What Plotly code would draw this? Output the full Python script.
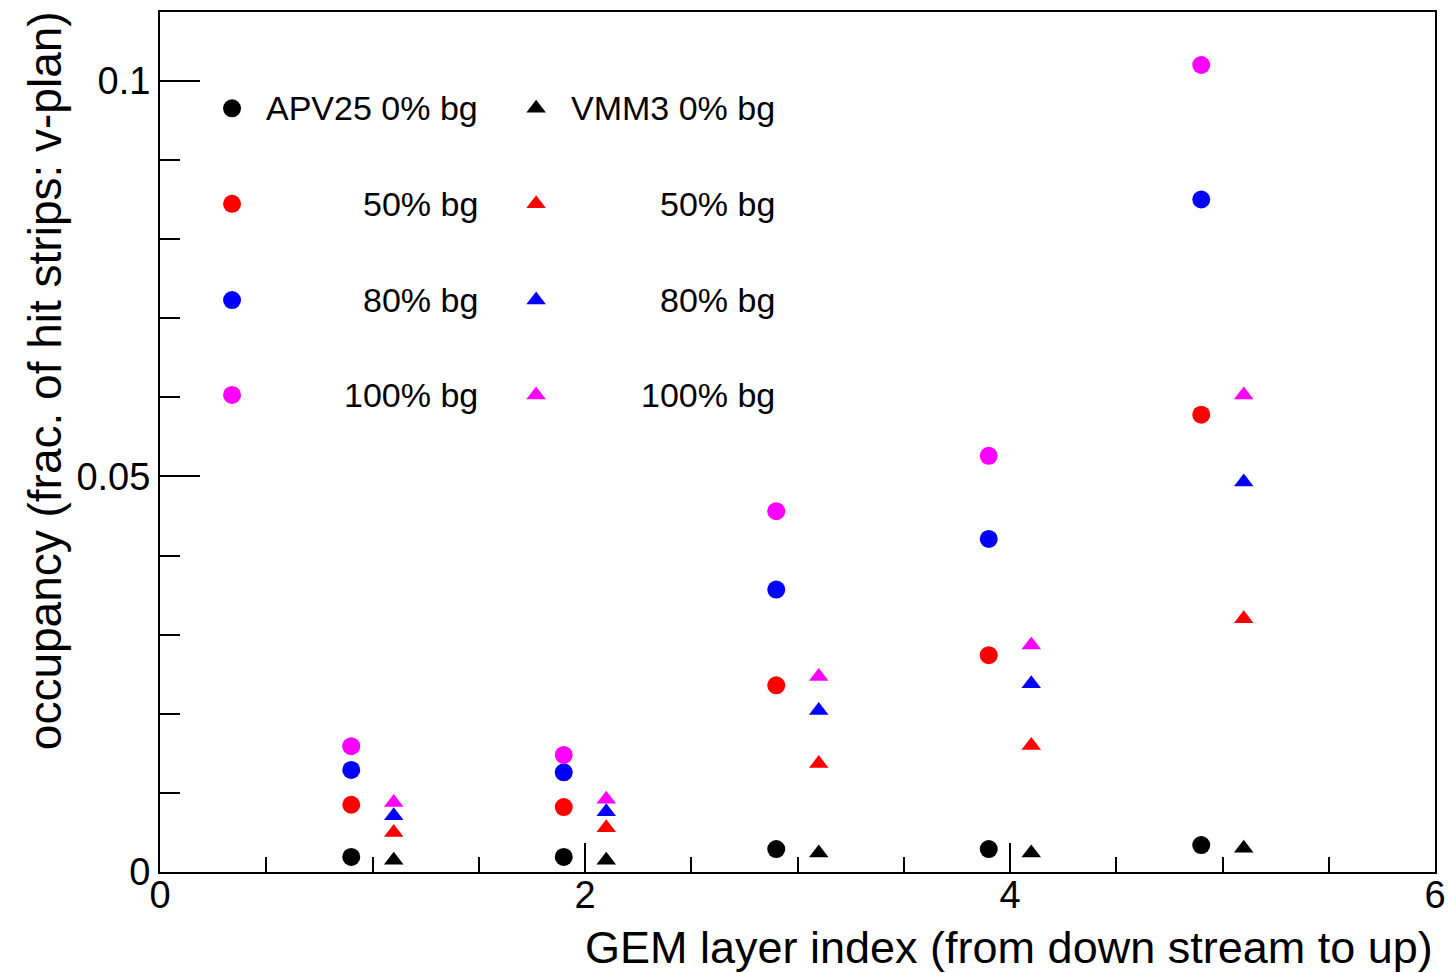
import plotly.graph_objects as go

# layer positions (APV25 shifted left, VMM3 shifted right)
x_apv = [0.9, 1.9, 2.9, 3.9, 4.9]
x_vmm = [1.1, 2.1, 3.1, 4.1, 5.1]

# occupancy
apv_0 = [0.0019, 0.0019, 0.0029, 0.0029, 0.0034]
apv_50 = [0.0085, 0.0082, 0.0236, 0.0274, 0.0578]
apv_80 = [0.0129, 0.0126, 0.0357, 0.0421, 0.0850]
apv_100 = [0.0159, 0.0148, 0.0456, 0.0526, 0.1020]

vmm_0 = [0.0015, 0.0015, 0.0024, 0.0024, 0.0030]
vmm_50 = [0.0050, 0.0056, 0.0137, 0.0160, 0.0320]
vmm_80 = [0.0071, 0.0076, 0.0204, 0.0238, 0.0493]
vmm_100 = [0.0088, 0.0092, 0.0247, 0.0287, 0.0603]

bg_labels = ["0% bg", "50% bg", "80% bg", "100% bg"]
colors = ["black", "red", "blue", "magenta"]

FONT = "Liberation Sans, Arial, Helvetica, sans-serif"

fig = go.Figure()

apv_sets = [apv_0, apv_50, apv_80, apv_100]
vmm_sets = [vmm_0, vmm_50, vmm_80, vmm_100]
for ys, c, lab in zip(apv_sets, colors, bg_labels):
    fig.add_trace(go.Scatter(x=x_apv, y=ys, mode="markers", name="APV25 " + lab,
                             marker=dict(symbol="circle", size=18, color=c),
                             showlegend=False))
for ys, c, lab in zip(vmm_sets, colors, bg_labels):
    fig.add_trace(go.Scatter(x=x_vmm, y=ys, mode="markers", name="VMM3 " + lab,
                             marker=dict(symbol="triangle-up", size=17, color=c),
                             showlegend=False))

# hand-made legend (ROOT style, two columns, text right aligned)
leg_rows = [0.888, 0.777, 0.665, 0.5547]
col_marker = [0.0565, 0.295]
col_text = [0.251, 0.484]
apv_text = ["APV25 0% bg", "50% bg", "80% bg", "100% bg"]
vmm_text = ["VMM3 0% bg", "50% bg", "80% bg", "100% bg"]

for sym, cm, ct, texts, sz in [("circle", col_marker[0], col_text[0], apv_text, 18),
                               ("triangle-up", col_marker[1], col_text[1], vmm_text, 17)]:
    for yr, c, t in zip(leg_rows, colors, texts):
        fig.add_trace(go.Scatter(x=[cm], y=[yr], mode="markers", xaxis="x2", yaxis="y2",
                                 marker=dict(symbol=sym, size=sz, color=c),
                                 showlegend=False, hoverinfo="skip"))
        fig.add_annotation(x=ct, y=yr, xref="paper", yref="paper", text=t,
                           showarrow=False, xanchor="right", yanchor="middle",
                           font=dict(family=FONT, size=34, color="black"))

# axis titles
fig.add_annotation(x=1.0, y=-0.088, xref="paper", yref="paper",
                   text="GEM layer index (from down stream to up)", showarrow=False,
                   xanchor="right", yanchor="middle",
                   font=dict(family=FONT, size=45, color="black"))
fig.add_annotation(x=-0.09, y=1.003, xref="paper", yref="paper",
                   text="occupancy (frac. of hit strips: v-plan)", showarrow=False,
                   textangle=-90, xanchor="center", yanchor="top",
                   font=dict(family=FONT, size=46, color="black"))

fig.update_layout(
    width=1448, height=973,
    margin=dict(l=160, r=13, t=12, b=101),
    plot_bgcolor="white", paper_bgcolor="white",
    font=dict(family=FONT, size=38, color="black"),
    xaxis=dict(range=[0, 6], dtick=2, tick0=0, ticks="inside", ticklen=29, tickwidth=2,
               tickcolor="black", showline=True, linecolor="black", linewidth=2, mirror=True,
               showgrid=False, zeroline=False, automargin=False, ticklabelstandoff=-12,
               minor=dict(dtick=0.5, ticks="inside", ticklen=15, tickwidth=2, tickcolor="black",
                          showgrid=False),
               tickfont=dict(family=FONT, size=38)),
    yaxis=dict(range=[0, 0.1087], tickvals=[0, 0.05, 0.1], ticktext=["0", "0.05", "0.1"],
               ticks="inside", ticklen=40, tickwidth=2, tickcolor="black",
               showline=True, linecolor="black", linewidth=2, mirror=True,
               showgrid=False, zeroline=False, automargin=False,
               minor=dict(dtick=0.01, tick0=0, ticks="inside", ticklen=20, tickwidth=2,
                          tickcolor="black", showgrid=False),
               tickfont=dict(family=FONT, size=38)),
    xaxis2=dict(range=[0, 1], overlaying="x", visible=False, fixedrange=True),
    yaxis2=dict(range=[0, 1], overlaying="y", visible=False, fixedrange=True),
)

# drop the default 8px body margin so the figure fills the window exactly
fig.write_html("out.html", config={"displayModeBar": False},
               post_script="document.body.style.margin='0';")
